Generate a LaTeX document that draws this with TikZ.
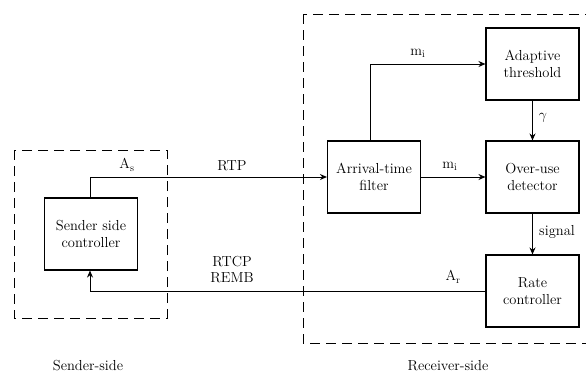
\documentclass[tikz,border=0pt]{standalone}
\usetikzlibrary{arrows.meta}
\begin{document}
\begin{tikzpicture}[x=1pt,y=-1pt,
  blk/.style={draw, line width=1.1pt, minimum width=93pt, minimum height=72pt, align=center, inner sep=1pt, font=\fontsize{14.5}{17}\selectfont},
  lbl/.style={font=\fontsize{14.5}{16}\selectfont, inner sep=1pt, align=center},
  conn/.style={line width=1pt},
  arr/.style={conn, -{Stealth[length=7pt,width=6pt]}},
  region/.style={line width=0.9pt, dash pattern=on 10pt off 6pt}]
\useasboundingbox (0,0) rectangle (586,376);
\fill[white] (0,0) rectangle (586,376);
% regions
\draw[region] (14,150) rectangle (167,318);
\draw[region] (303,14) rectangle (600,343);
% blocks
\node[blk] (snd) at (91,234) {Sender side\\controller};
\node[blk] (flt) at (374,177) {Arrival-time\\filter};
\node[blk] (ada) at (532.5,64) {Adaptive\\threshold};
\node[blk] (ovr) at (532.5,177) {Over-use\\detector};
\node[blk] (rate) at (532.5,291) {Rate\\controller};
% connectors
\coordinate (c1) at (90,177);
\coordinate (c2) at (370,64);
\coordinate (c3) at (90,291);
\draw[arr] (snd.north -| c1) |- (flt.west);
\draw[arr] (flt.north -| c2) |- (ada.west);
\draw[arr] (flt.east) -- (ovr.west);
\draw[arr] (ada.south) -- (ovr.north);
\draw[arr] (ovr.south) -- (rate.north);
\draw[arr] (rate.west) -| (snd.south -| c3);
% labels
\node[lbl] (las) at (127,165) {$\mathrm{A_s}$};
\node[lbl] (lrtp) at (232,166) {RTP};
\node[lbl] (lrtcp) at (232,270) {RTCP\\REMB};
\node[lbl] (lar) at (453,277) {$\mathrm{A_r}$};
\node[lbl] (lmi1) at (418,53) {$\mathrm{m_i}$};
\node[lbl] (lmi2) at (450,166) {$\mathrm{m_i}$};
\node[lbl] (lgam) at (543,118) {$\gamma$};
\node[lbl] (lsig) at (557,232) {signal};
\node[lbl] (lss) at (88,366) {Sender-side};
\node[lbl] (lrs) at (448,366) {Receiver-side};
\end{tikzpicture}
\end{document}
